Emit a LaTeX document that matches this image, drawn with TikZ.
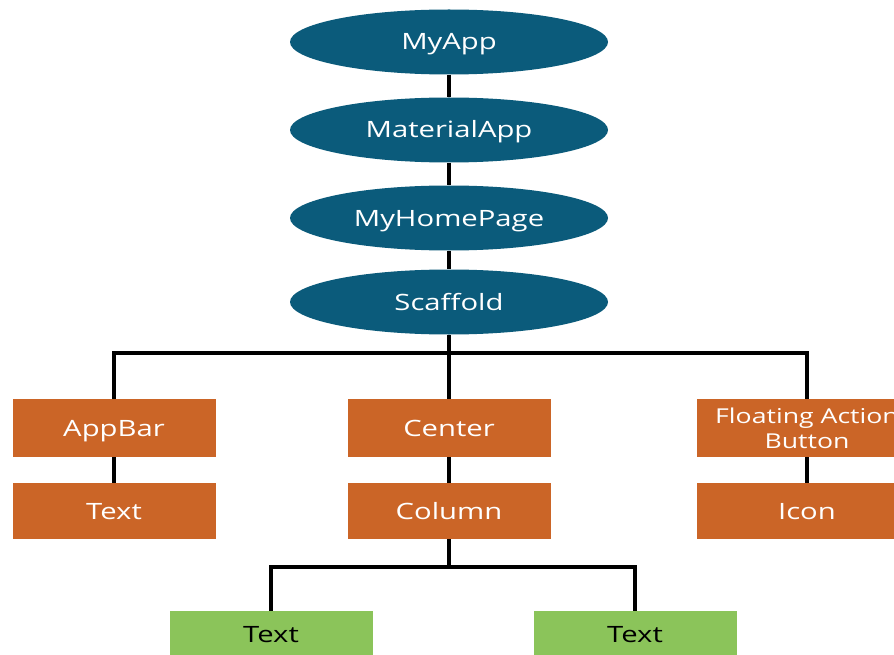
\documentclass[tikz,border=0pt]{standalone}
\usepackage{fontspec}
\newfontfamily\labelfont[FakeStretch=1.3]{Open Sans}
\usetikzlibrary{shapes.geometric}
\definecolor{widgetblue}{HTML}{0B5B7B}
\definecolor{widgetorange}{HTML}{CB6527}
\definecolor{widgetgreen}{HTML}{8BC45A}
\tikzset{
  every node/.style={font=\labelfont\fontsize{22.5}{25}\selectfont},
  capcentred/.style={text height=16pt, text depth=0pt},
  rootnode/.style={ellipse, fill=widgetblue, text=white, capcentred,
    minimum width=318pt, minimum height=65pt, inner sep=0pt},
  widgetbox/.style={rectangle, fill=widgetorange, text=white,
    minimum width=203pt, inner sep=0pt, align=center},
  upperbox/.style={widgetbox, minimum height=58pt},
  lowerbox/.style={widgetbox, capcentred, minimum height=56pt},
  leafbox/.style={rectangle, fill=widgetgreen, text=black, capcentred,
    minimum width=203pt, minimum height=46pt, inner sep=0pt},
  conn/.style={draw=black, line width=4.5pt},
}
\begin{document}
\begin{tikzpicture}[x=1pt, y=-1pt]
\useasboundingbox (0,0) rectangle (894,655);

% widget chain
\node[rootnode] (myapp)    at (449,42)  {MyApp};
\node[rootnode] (material) at (449,130) {MaterialApp};
\node[rootnode] (home)     at (449,218) {MyHomePage};
\node[rootnode] (scaffold) at (449,302) {Scaffold};

% scaffold children
\node[upperbox, capcentred] (appbar) at (114,428) {AppBar};
\node[upperbox, capcentred] (center) at (449,428) {Center};
\node[upperbox, minimum width=220pt,
      font=\labelfont\fontsize{20.5}{25}\selectfont] (fab) at (807,428) {Floating Action\\Button};

\node[lowerbox] (apptext) at (114,511) {Text};
\node[lowerbox] (column)  at (449,511) {Column};
\node[lowerbox, minimum width=220pt] (icon) at (807,511) {Icon};

% column children
\node[leafbox] (leftleaf)  at (271,634) {Text};
\node[leafbox] (rightleaf) at (635,634) {Text};

% connectors
\draw[conn] (myapp.south) -- (material.north);
\draw[conn] (material.south) -- (home.north);
\draw[conn] (home.south) -- (scaffold.north);

\coordinate (topbus) at (449,353);
\draw[conn] (scaffold.south) -- (topbus);
\draw[conn] (appbar.north) |- (topbus) -| (fab.north);
\draw[conn] (topbus) -- (center.north);

\draw[conn] (appbar.south) -- (apptext.north);
\draw[conn] (center.south) -- (column.north);
\draw[conn] (fab.south) -- (icon.north);

\coordinate (lowbus) at (449,567);
\draw[conn] (column.south) -- (lowbus);
\draw[conn] (leftleaf.north) |- (lowbus) -| (rightleaf.north);
\end{tikzpicture}
\end{document}
